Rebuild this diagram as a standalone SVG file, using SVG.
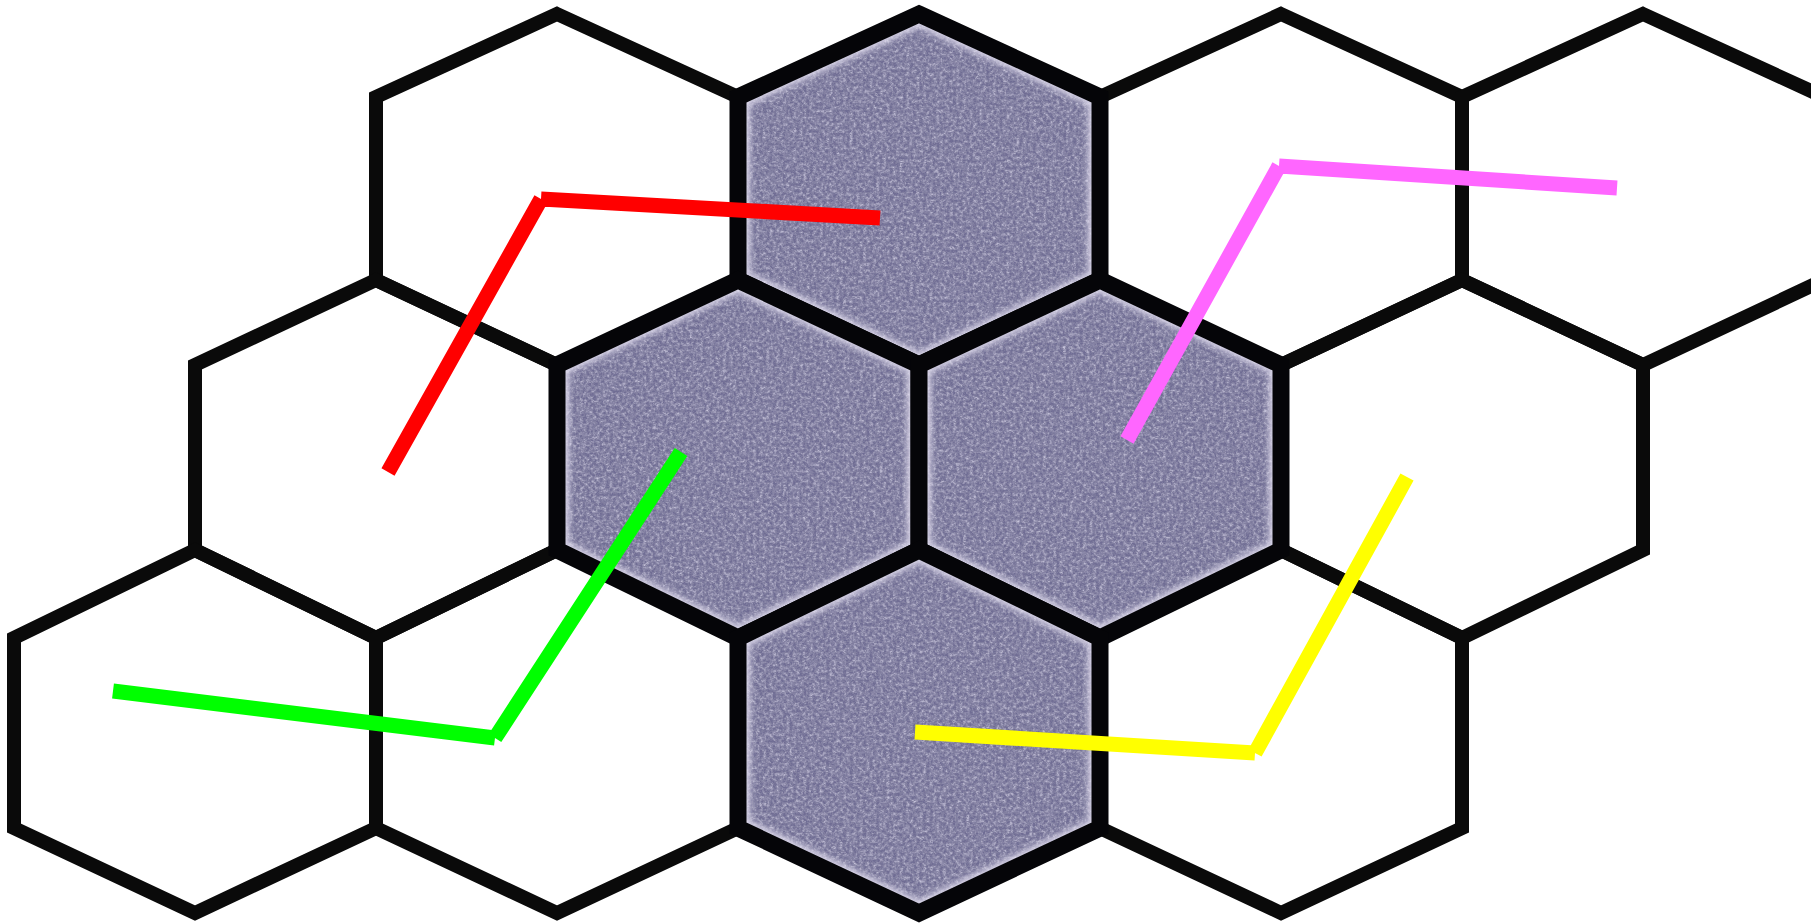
<svg xmlns="http://www.w3.org/2000/svg" xmlns:xlink="http://www.w3.org/1999/xlink" width="1811" height="923" viewBox="0 0 1811 923">
<style>
.hex{fill:none;stroke:#0a0a0a;stroke-width:14;stroke-linejoin:miter;stroke-miterlimit:10}
.hexS{fill:none;stroke:#050508;stroke-width:17;stroke-linejoin:miter;stroke-miterlimit:10}
.fillS{fill:#6f6d94;filter:url(#grain)}
.halo{fill:none;stroke:#e2deef;stroke-width:24;opacity:0.9;filter:url(#soft)}
.conn{fill:none;stroke-width:15;stroke-linecap:butt}
</style>
<defs>
<filter id="grain" x="0" y="0" width="1" height="1">
<feTurbulence type="fractalNoise" baseFrequency="0.5 1.2" numOctaves="3" seed="7" result="noise"/>
<feColorMatrix in="noise" type="matrix" values="0 0 0 0 0.22  0 0 0 0 0.21  0 0 0 0 0.35  0 0 0 3.0 -1.15" result="speck"/>
<feComposite in="speck" in2="SourceGraphic" operator="in" result="sp"/>
<feTurbulence type="fractalNoise" baseFrequency="0.3" numOctaves="2" seed="21" result="noise2"/>
<feColorMatrix in="noise2" type="matrix" values="0 0 0 0 0.66  0 0 0 0 0.64  0 0 0 0 0.8  0 0 0 1.6 -0.6" result="light"/>
<feComposite in="light" in2="SourceGraphic" operator="in" result="lt"/>
<feMerge><feMergeNode in="SourceGraphic"/><feMergeNode in="lt"/><feMergeNode in="sp"/></feMerge>
</filter>
<filter id="soft" x="-10%" y="-10%" width="120%" height="120%">
<feGaussianBlur stdDeviation="3"/>
</filter>
<polygon id="p1b" points="919,14 1100,97 1100,280 919,365 738,280 738,97"/>
<polygon id="p2b" points="738,280 919,365 919,550 738,638 557,550 557,365"/>
<polygon id="p2c" points="1100,280 1281,365 1281,550 1100,638 919,550 919,365"/>
<polygon id="p3c" points="919,550 1100,638 1100,828 919,913 738,828 738,638"/>
<clipPath id="c1b"><use xlink:href="#p1b"/></clipPath>
<clipPath id="c2b"><use xlink:href="#p2b"/></clipPath>
<clipPath id="c2c"><use xlink:href="#p2c"/></clipPath>
<clipPath id="c3c"><use xlink:href="#p3c"/></clipPath>
</defs>
<rect width="1811" height="923" fill="#ffffff"/>

<g id="hex-r1-1"><polygon class="hex" points="557,14 738,97 738,280 557,365 376,280 376,97"/></g>
<g id="hex-r1-3"><polygon class="hex" points="1281,14 1462,97 1462,280 1281,365 1100,280 1100,97"/></g>
<g id="hex-r1-4"><polygon class="hex" points="1643,14 1824,97 1824,280 1643,365 1462,280 1462,97"/></g>
<g id="hex-r2-1"><polygon class="hex" points="376,280 557,365 557,550 376,638 195,550 195,365"/></g>
<g id="hex-r2-4"><polygon class="hex" points="1462,280 1643,365 1643,550 1462,638 1281,550 1281,365"/></g>
<g id="hex-r3-1"><polygon class="hex" points="195,550 376,638 376,828 195,913 14,828 14,638"/></g>
<g id="hex-r3-2"><polygon class="hex" points="557,550 738,638 738,828 557,913 376,828 376,638"/></g>
<g id="hex-r3-4"><polygon class="hex" points="1281,550 1462,638 1462,828 1281,913 1100,828 1100,638"/></g>

<g id="hex-r1-2">
<g clip-path="url(#c1b)"><use xlink:href="#p1b" class="fillS"/><use xlink:href="#p1b" class="halo"/></g>
<use xlink:href="#p1b" class="hexS"/>
</g>
<g id="hex-r2-2">
<g clip-path="url(#c2b)"><use xlink:href="#p2b" class="fillS"/><use xlink:href="#p2b" class="halo"/></g>
<use xlink:href="#p2b" class="hexS"/>
</g>
<g id="hex-r2-3">
<g clip-path="url(#c2c)"><use xlink:href="#p2c" class="fillS"/><use xlink:href="#p2c" class="halo"/></g>
<use xlink:href="#p2c" class="hexS"/>
</g>
<g id="hex-r3-3">
<g clip-path="url(#c3c)"><use xlink:href="#p3c" class="fillS"/><use xlink:href="#p3c" class="halo"/></g>
<use xlink:href="#p3c" class="hexS"/>
</g>

<g id="connectors">
<path class="conn" stroke="#ff0000" d="M388,472 L541,199 M541,199 L880,218"/>
<path class="conn" stroke="#ff66ff" d="M1127,440 L1279,166 M1279,166 L1617,188"/>
<path class="conn" stroke="#00ff00" d="M113,691 L495,738 M495,738 L681,452"/>
<path class="conn" stroke="#ffff00" d="M915,732 L1255,753 M1255,753 L1407,477"/>
</g>
</svg>
